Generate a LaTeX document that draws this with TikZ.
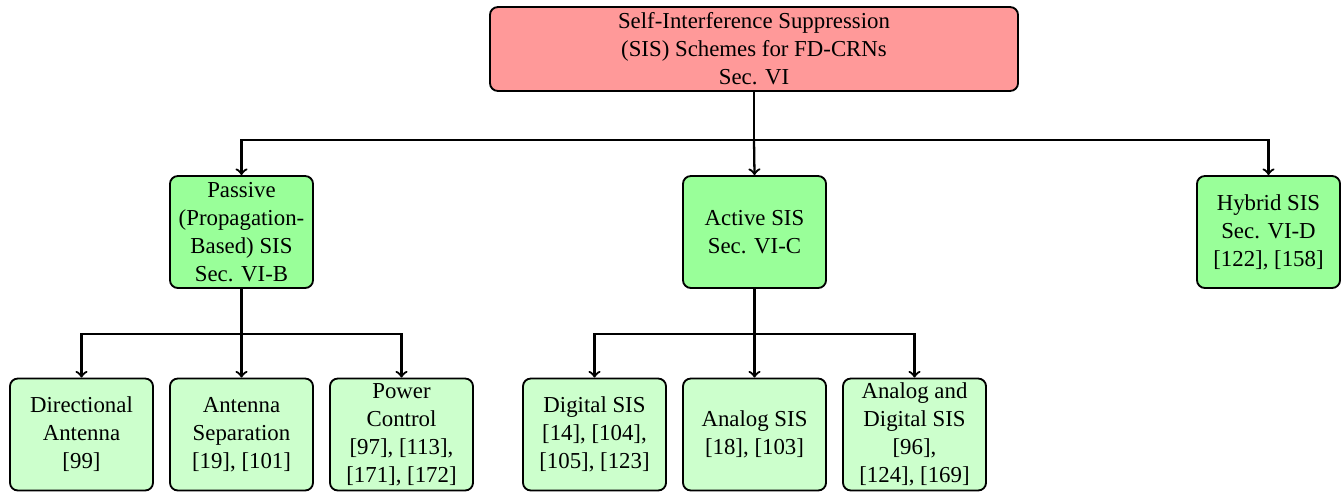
\documentclass[tikz,border=0pt]{standalone}
\usepackage{fontspec}
\setmainfont{Liberation Serif}
\begin{document}
\begin{tikzpicture}[x=0.46pt,y=-0.46pt,
  box/.style={draw=black,line width=0.85pt,rounded corners=3.6pt,align=center,inner sep=0pt,
    font=\fontsize{10.5}{12.9}\selectfont,minimum width=65.8pt,minimum height=51.5pt},
  topbox/.style={box,fill=red!40,minimum width=242.9pt,minimum height=38.6pt},
  midbox/.style={box,fill=green!40},
  leafbox/.style={box,fill=green!20},
  conn/.style={line width=1.05pt},
  arr/.style={conn,->}]
\useasboundingbox (0,0) rectangle (1343,493);
\node[topbox] (top) at (754,49) {Self-Interference Suppression\\(SIS) Schemes for FD-CRNs\\Sec. VI};
\node[midbox] (pas) at (241.5,232) {Passive\\(Propagation-\\Based) SIS\\Sec. VI-B};
\node[midbox] (act) at (754.5,232) {Active SIS\\Sec. VI-C};
\node[midbox] (hyb) at (1268.5,232) {Hybrid SIS\\Sec. VI-D\\ {[122]}, [158]};
\node[leafbox] (dir) at (81.5,434.5) {Directional\\Antenna\\ {[99]}};
\node[leafbox] (sep) at (241.5,434.5) {Antenna\\Separation\\ {[19]}, [101]};
\node[leafbox] (pow) at (401.5,434.5) {Power\\Control\\ {[97]}, [113],\\ {[171]}, [172]};
\node[leafbox] (dig) at (594.5,434.5) {Digital SIS\\ {[14]}, [104],\\ {[105]}, [123]};
\node[leafbox] (ana) at (754.5,434.5) {Analog SIS\\ {[18]}, [103]};
\node[leafbox] (and) at (914.5,434.5) {Analog and\\Digital SIS\\ {[96]},\\ {[124]}, [169]};
\coordinate (busA) at (0,140);
\coordinate (busB) at (0,334);
\draw[conn] (top.south) -- (top.south |- busA);
\draw[arr] (top.south |- busA) -| (pas.north);
\draw[arr] (top.south |- busA) -- (act.north);
\draw[arr] (top.south |- busA) -| (hyb.north);
\draw[conn] (pas.south) -- (pas.south |- busB);
\draw[arr] (pas.south |- busB) -| (dir.north);
\draw[arr] (pas.south |- busB) -- (sep.north);
\draw[arr] (pas.south |- busB) -| (pow.north);
\draw[conn] (act.south) -- (act.south |- busB);
\draw[arr] (act.south |- busB) -| (dig.north);
\draw[arr] (act.south |- busB) -- (ana.north);
\draw[arr] (act.south |- busB) -| (and.north);
\end{tikzpicture}
\end{document}
